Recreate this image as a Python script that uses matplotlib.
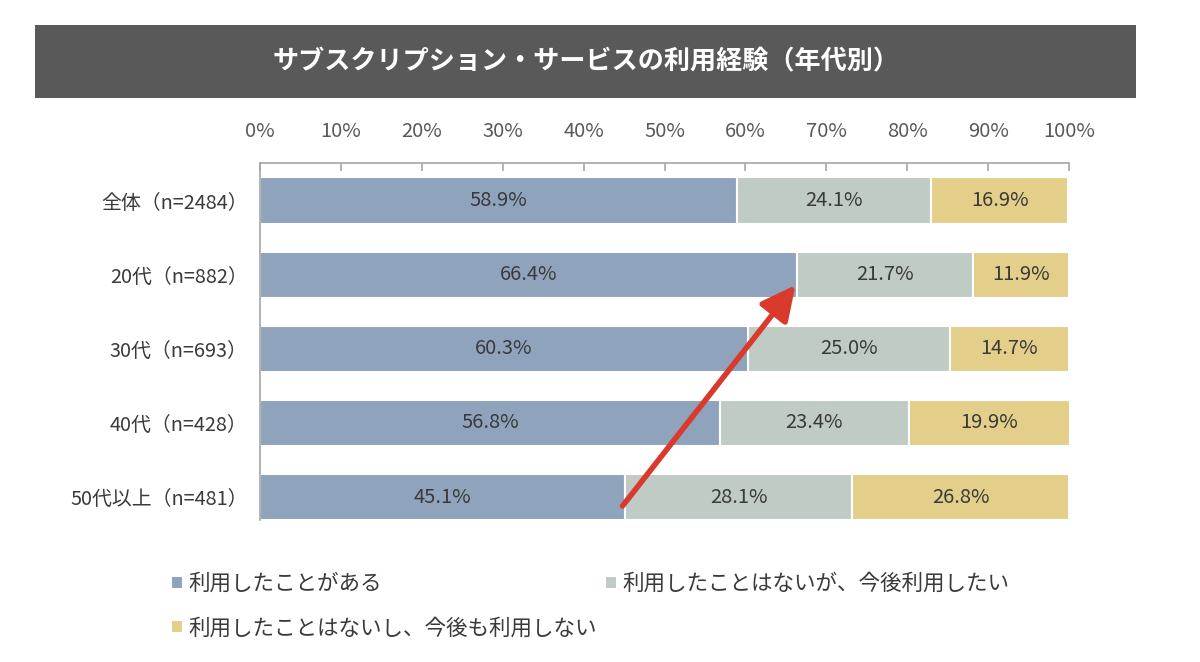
import matplotlib
matplotlib.use("Agg")
import matplotlib.pyplot as plt
from matplotlib.patches import Rectangle, FancyArrowPatch
import numpy as np

plt.rcParams['font.family'] = ['Noto Sans CJK JP', 'DejaVu Sans']

categories = ["全体（n=2484）", "20代（n=882）", "30代（n=693）", "40代（n=428）", "50代以上（n=481）"]
used = [58.9, 66.4, 60.3, 56.8, 45.1]
want = [24.1, 21.7, 25.0, 23.4, 28.1]
never = [16.9, 11.9, 14.7, 19.9, 26.8]
series_names = ["利用したことがある", "利用したことはないが、今後利用したい", "利用したことはないし、今後も利用しない"]
colors = ["#8fa3bd", "#bfcbc4", "#e3cf8a"]
title = "サブスクリプション・サービスの利用経験（年代別）"
xticks = [0, 10, 20, 30, 40, 50, 60, 70, 80, 90, 100]

fig = plt.figure(figsize=(12, 6.62), dpi=100)
# title box
fig.patches.append(Rectangle((35/1200, 1-98/662), (1136-35)/1200, 73/662,
                             transform=fig.transFigure, facecolor="#595959", edgecolor="none", zorder=0))
fig.text(586/1200, 1-62/662, title, color="white", fontsize=18.8, fontweight="bold",
         ha="center", va="center")

ax = fig.add_axes([260/1200, 1-520/662, (1069-260)/1200, (520-163)/662])
y = np.arange(len(categories))
h = 0.63
left = np.zeros(len(categories))
handles = []
for vals, c, name in zip([used, want, never], colors, series_names):
    vals = np.array(vals)
    b = ax.barh(y, vals, left=left, height=h, color=c, edgecolor="white", linewidth=1.5, label=name)
    handles.append(b)
    for yi, l, v in zip(y, left, vals):
        ax.text(l + v/2, yi, f"{v:.1f}%", ha="center", va="center", fontsize=14.5, color="#3a3a3a")
    left = left + vals

ax.set_xlim(0, 100)
ax.set_ylim(4.31, -0.51)
ax.set_yticks(y)
ax.set_yticklabels(categories, fontsize=14.3, color="#3a3a3a")
ax.tick_params(axis="y", length=0, pad=9)
ax.xaxis.tick_top()
ax.set_xticks(xticks)
ax.set_xticklabels([f"{t}%" for t in xticks], fontsize=14.5, color="#595959")
ax.tick_params(axis="x", direction="in", length=6, color="#a6a6a6", pad=15, width=1.2)
for s in ["right", "bottom"]:
    ax.spines[s].set_visible(False)
for s in ["top", "left"]:
    ax.spines[s].set_color("#a6a6a6")
    ax.spines[s].set_linewidth(1.2)

# red arrow
arr = FancyArrowPatch((44.6, 4.15), (66.4, 1.11), arrowstyle="-|>,head_length=14,head_width=7",
                      color="#d93a2b", linewidth=4, mutation_scale=1.5, zorder=5)
ax.add_patch(arr)

leg = fig.legend([handles[0], handles[2], handles[1]],
                 [series_names[0], series_names[2], series_names[1]],
                 ncol=2, loc="upper left", bbox_to_anchor=(160/1200, 1-562/662),
                 frameon=False, fontsize=15.5, handlelength=0.55, handleheight=0.55,
                 handletextpad=0.25, columnspacing=0.4, labelspacing=1.05,
                 labelcolor="#3a3a3a", borderpad=0)
fig.savefig("out.png", dpi=100)
